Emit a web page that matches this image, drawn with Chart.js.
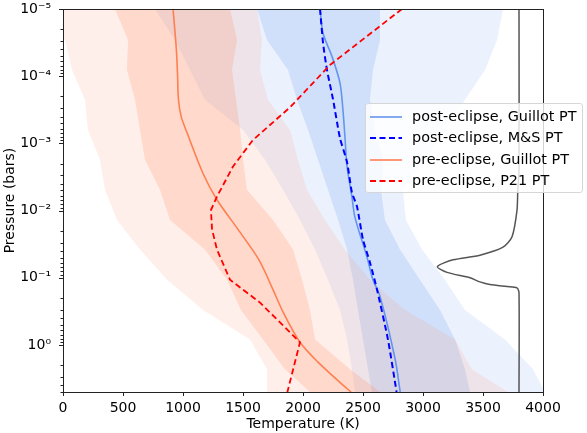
<!DOCTYPE html>
<html>
<head>
<meta charset="utf-8">
<script src="https://cdn.jsdelivr.net/npm/chart.js@4.4.0/dist/chart.umd.min.js"></script>
<style>
  body { margin: 0; background: #fff; }
  #wrap { position: relative; width: 587px; height: 433px; }
  #legend {
    position: absolute; left: 365px; top: 103px; width: 218px; height: 90px;
    box-sizing: border-box; background: rgba(255,255,255,0.8);
    border: 1px solid #d6d6d6; border-radius: 3px;
    font-family: "DejaVu Sans", sans-serif; font-size: 14.4px; color: #000;
  }
  .row { position: absolute; left: 0; height: 20px; width: 100%; }
  .row svg { position: absolute; left: 3px; top: 4px; }
  .row span { position: absolute; left: 46px; top: 1px; white-space: nowrap; line-height: 16px; }
</style>
</head>
<body>
<div id="wrap">
  <canvas id="chart" width="587" height="433"></canvas>
  <div id="legend"></div>
</div>
<script>
// pressure grid (bars) used for the credible-interval bands
const pressureGrid = [1e-5, 2.9e-5, 8.1e-5, 2.25e-4, 6.3e-4, 1.75e-3, 4.9e-3, 1.38e-2, 3.8e-2, 0.107, 0.30, 0.83, 2.3, 5];

// pre-eclipse bands (K)
const preOuterLeft  = [-300, 17, 75, 183, 208, 308, 350, 450, 642, 867, 1167, 1558, 1700, 1700];
const preOuterRight = [1617, 1658, 1642, 1708, 1892, 1958, 2033, 2183, 2350, 2558, 2850, 3267, 3408, 3708];
const preInnerLeft  = [433, 542, 533, 600, 642, 683, 808, 892, 1183, 1367, 1483, 1667, 1850, 2058];
const preInnerRight = [1392, 1450, 1408, 1442, 1475, 1500, 1533, 1750, 1917, 1992, 2058, 2100, 2392, 2642];

// post-eclipse bands (K)
const postOuterLeft  = [767, 933, 1058, 1183, 1500, 1683, 1833, 1975, 2100, 2208, 2308, 2367, 2408, 2433];
const postOuterRight = [3667, 3617, 3517, 3350, 3183, 3017, 2833, 2858, 2992, 3183, 3350, 3683, 3917, 4017];
const postInnerLeft  = [1617, 1700, 1875, 1950, 2042, 2125, 2208, 2292, 2367, 2417, 2458, 2500, 2542, 2575];
const postInnerRight = [2642, 2642, 2583, 2558, 2600, 2667, 2650, 2683, 2808, 2975, 3142, 3267, 3350, 3392];

// best-fit profiles
const preGuillotP = [1e-5, 4.1e-5, 1e-4, 2.2e-4, 4e-4, 6.9e-4, 2.8e-3, 6.9e-3, 1.9e-2, 5.4e-2, 0.15, 0.32, 0.91, 1.8, 3.6, 5];
const preGuillotT = [917, 945, 955, 962, 985, 1033, 1167, 1283, 1458, 1633, 1750, 1833, 1975, 2125, 2308, 2400];
const preP21P = [1e-5, 6.8e-5, 2.9e-4, 8.9e-4, 2.2e-3, 6.2e-3, 9.8e-3, 1.9e-2, 3.8e-2, 0.107, 0.234, 0.91, 5];
const preP21T = [2825, 2225, 1892, 1583, 1417, 1283, 1233, 1242, 1283, 1392, 1642, 1975, 1870];
const postGuillotP = [1e-5, 2.3e-5, 5.1e-5, 1.26e-4, 3.2e-4, 8.3e-4, 2.2e-3, 6.3e-3, 1.26e-2, 4.9e-2, 0.107, 0.19, 1.6, 5];
const postGuillotT = [2142, 2167, 2242, 2308, 2333, 2350, 2367, 2408, 2433, 2533, 2583, 2642, 2767, 2810];
const postMSP = [1e-5, 3.2e-5, 8.1e-5, 2.2e-4, 8.3e-4, 1.9e-3, 5.4e-3, 8.7e-3, 2.7e-2, 5.9e-2, 0.15, 0.83, 5];
const postMST = [2142, 2167, 2200, 2250, 2308, 2367, 2408, 2450, 2500, 2558, 2617, 2708, 2780];

// contribution function (drawn in temperature units)
const contribP = [1e-5, 2.5e-3, 5e-3, 1e-2, 2.45e-2, 3.5e-2, 4.6e-2, 5.4e-2, 6.8e-2, 8.3e-2, 0.1, 0.115, 0.126, 0.135, 0.141, 0.166, 5];
const contribT = [3800, 3800, 3790, 3783, 3742, 3667, 3475, 3250, 3120, 3200, 3392, 3475, 3558, 3700, 3783, 3800, 3800];

const decades = [1e-5, 1e-4, 1e-3, 1e-2, 1e-1, 1];

const font = { family: "DejaVu Sans", size: 14 };
const sup = { '-': '\u207b', '0': '\u2070', '1': '\u00b9', '2': '\u00b2', '3': '\u00b3', '4': '\u2074', '5': '\u2075' };

function profile(ts, ps) {
  return ts.map((t, i) => ({ x: t, y: ps[i] }));
}
function band(left, right) {
  let pts = left.map((t, i) => ({ x: t, y: pressureGrid[i] }));
  for (let i = right.length - 1; i >= 0; i--) pts.push({ x: right[i], y: pressureGrid[i] });
  return pts;
}
function bandSet(data, color, order) {
  return { data: data, fill: 'shape', backgroundColor: color, borderWidth: 0,
           pointRadius: 0, order: order };
}

const lines = [
  { label: 'post-eclipse, Guillot PT', color: '#6495ed', dash: [], width: 1.6, tension: 0.3, t: postGuillotT, p: postGuillotP },
  { label: 'post-eclipse, M&S PT', color: '#0000ff', dash: [6, 3.5], width: 2, tension: 0.2, t: postMST, p: postMSP },
  { label: 'pre-eclipse, Guillot PT', color: '#ff7f50', dash: [], width: 1.6, tension: 0.3, t: preGuillotT, p: preGuillotP },
  { label: 'pre-eclipse, P21 PT', color: '#ff0000', dash: [6, 3.5], width: 1.8, tension: 0, t: preP21T, p: preP21P }
];

let datasets = lines.map((l, i) => ({
  data: profile(l.t, l.p), borderColor: l.color, borderDash: l.dash, borderWidth: l.width,
  tension: l.tension, pointRadius: 0, fill: false, order: 4 - i
}));
datasets.push({ data: profile(contribT, contribP), borderColor: '#555', borderWidth: 1.5,
                tension: 0.25, pointRadius: 0, fill: false, order: 5 });
datasets.push(bandSet(band(preInnerLeft, preInnerRight), 'rgba(255,127,80,0.2)', 6));
datasets.push(bandSet(band(preOuterLeft, preOuterRight), 'rgba(255,127,80,0.12)', 7));
datasets.push(bandSet(band(postInnerLeft, postInnerRight), 'rgba(100,149,237,0.2)', 8));
datasets.push(bandSet(band(postOuterLeft, postOuterRight), 'rgba(100,149,237,0.12)', 9));

// axis frame and tick marks like matplotlib
const frame = {
  id: 'frame',
  afterDraw(chart) {
    const { ctx, chartArea: a, scales: { x, y } } = chart;
    ctx.save();
    ctx.strokeStyle = '#222';
    ctx.lineWidth = 1;
    ctx.beginPath();
    for (let v = 0; v <= 4000; v += 500) {
      let px = Math.round(x.getPixelForValue(v)) + 0.5;
      ctx.moveTo(px, a.bottom); ctx.lineTo(px, a.bottom + 4);
    }
    decades.forEach(d => {
      let py = Math.round(y.getPixelForValue(d)) + 0.5;
      ctx.moveTo(a.left, py); ctx.lineTo(a.left - 4, py);
      for (let k = 2; k <= 9; k++) {
        if (k * d > 5) break;
        let pm = Math.round(y.getPixelForValue(k * d)) + 0.5;
        ctx.moveTo(a.left, pm); ctx.lineTo(a.left - 2.5, pm);
      }
    });
    ctx.stroke();
    ctx.strokeRect(Math.round(a.left) + 0.5, Math.round(a.top) + 0.5,
                   Math.round(a.right - a.left), Math.round(a.bottom - a.top));
    ctx.restore();
  }
};

new Chart(document.getElementById('chart'), {
  type: 'line',
  data: { datasets: datasets },
  options: {
    responsive: false,
    animation: false,
    layout: { padding: { top: 9, right: 44 } },
    plugins: { legend: { display: false }, tooltip: { enabled: false } },
    scales: {
      x: {
        type: 'linear', min: 0, max: 4000,
        ticks: { stepSize: 500, font: font, color: '#000', padding: 0, maxRotation: 0, callback: v => String(v) },
        grid: { display: false },
        border: { display: false },
        title: { display: true, text: 'Temperature (K)', font: font, color: '#000', padding: { top: 0, bottom: 0 } },
        afterFit: s => { s.height = 41; s.paddingLeft = 0; s.paddingRight = 0; }
      },
      y: {
        type: 'logarithmic', reverse: true, min: 1e-5, max: 5,
        afterBuildTicks: s => { s.ticks = decades.map(v => ({ value: v, major: true })); },
        ticks: {
          font: font, color: '#000', padding: 4,
          callback: v => '10' + String(Math.round(Math.log10(v))).split('').map(c => sup[c]).join('')
        },
        grid: { display: false },
        border: { display: false },
        title: { display: true, text: 'Pressure (bars)', font: font, color: '#000', padding: { top: 2, bottom: 0 } },
        afterFit: s => { s.width = 63; s.paddingTop = 0; s.paddingBottom = 0; }
      }
    }
  },
  plugins: [frame]
});

// legend drawn as an overlay box, like the matplotlib one that sticks out of the axes
const legend = document.getElementById('legend');
lines.forEach((l, i) => {
  const row = document.createElement('div');
  row.className = 'row';
  row.style.top = (3 + i * 21.3) + 'px';
  row.innerHTML = '<svg width="34" height="12"><line x1="1" y1="6" x2="33" y2="6" stroke="' + l.color +
    '" stroke-width="' + l.width + '" stroke-dasharray="' + (l.dash.length ? l.dash.join(',') : 'none') + '"/></svg>' +
    '<span></span>';
  row.querySelector('span').textContent = l.label;
  legend.appendChild(row);
});
</script>
</body>
</html>
